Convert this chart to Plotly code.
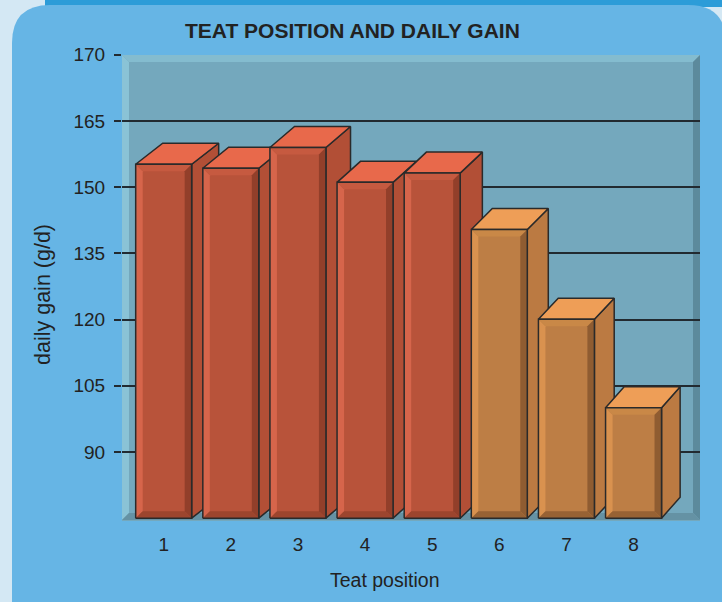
import plotly.graph_objects as go

# ---------------- data ----------------
categories = ['1', '2', '3', '4', '5', '6', '7', '8']
positions = [1, 2, 3, 4, 5, 6, 7, 8]
daily_gain = [155.2, 154.3, 159.0, 151.1, 153.2, 140.4, 120.1, 100.0]
y_tick_values = [90, 105, 120, 135, 150, 165, 180]
y_tick_labels = ['90', '105', '120', '135', '150', '165', '170']
baseline = 75

chart_title = 'TEAT POSITION AND DAILY GAIN'
x_title = 'Teat position'
y_title = 'daily gain (g/d)'

# ---------------- style ----------------
W, H = 722, 602
L, R, T, B = 122, 700, 54, 521          # plot area in pixels
PW, PH = R - L, B - T
X_RANGE = [0.379, 8.99]
Y_RANGE = [74.36, 180.19]
ux = (X_RANGE[1] - X_RANGE[0]) / PW      # data units per px
uy = (Y_RANGE[1] - Y_RANGE[0]) / PH
BAR_W = 0.834
BEVEL = 7
DEPTH_Y = 21
FONT = 'Liberation Sans, Arial, sans-serif'
INK = '#222222'
OUTLINE = '#2a2a2a'

red = dict(mid='#b8533a', light='#d6654b', top_bevel='#c65a40', dark='#923f2a',
           bottom='#9c452e', top='#e8694b', side='#b24f36')
orange = dict(mid='#bd7e45', light='#d9924f', top_bevel='#c98847', dark='#8f5c31',
              bottom='#976234', top='#ee9e57', side='#bb7a42')
palettes = [red] * 5 + [orange] * 3


def pp(px, py):
    return (px - L) / PW, (B - py) / PH


def poly_path(pts):
    s = ''
    for i, (px, py) in enumerate(pts):
        x, y = pp(px, py)
        s += ('M' if i == 0 else 'L') + f'{x:.5f},{y:.5f} '
    return s + 'Z'


def rounded_path(x0, y0, x1, y1, r):
    pts = [('M', (x0 + r, y0)), ('L', (x1 - r, y0)), ('Q', (x1, y0), (x1, y0 + r)),
           ('L', (x1, y1 - r)), ('Q', (x1, y1), (x1 - r, y1)), ('L', (x0 + r, y1)),
           ('Q', (x0, y1), (x0, y1 - r)), ('L', (x0, y0 + r)), ('Q', (x0, y0), (x0 + r, y0))]
    s = ''
    for item in pts:
        cmd = item[0]
        coords = ' '.join('%.5f,%.5f' % pp(*c) for c in item[1:])
        s += f'{cmd}{coords} '
    return s + 'Z'


shapes = []


def add_path(path, color):
    shapes.append(dict(type='path', xref='paper', yref='paper', path=path,
                       fillcolor=color, line=dict(width=0), layer='below'))


# background decoration
add_path(poly_path([(45, 0), (722, 0), (722, 7), (45, 7)]), '#2c9cd8')
add_path(rounded_path(12, 5, 726, 650, 38), '#66b5e5')
add_path(poly_path([(L, 55), (R, 55), (R, 521), (L, 521)]), '#74a8bd')
add_path(poly_path([(L, 55), (129, 62), (129, 513), (L, 520)]), '#8ac3d6')
add_path(poly_path([(L, 55), (R, 55), (693, 62), (129, 62)]), '#84bccf')
add_path(poly_path([(693, 62), (R, 55), (R, 520), (693, 513)]), '#5c8a9c')
add_path(poly_path([(L, 520), (129, 513), (693, 513), (R, 520)]), '#6592a4')

fig = go.Figure()

# front faces as real bars
fig.add_trace(go.Bar(
    x=positions, y=[v - baseline for v in daily_gain], base=baseline, width=BAR_W,
    marker=dict(color=[p['mid'] for p in palettes], line=dict(width=0)),
    hovertemplate='Teat %{x}: %{y}<extra></extra>', showlegend=False))


def poly(xs, ys, color, line=False, fill=True):
    fig.add_trace(go.Scatter(
        x=list(xs) + [xs[0]], y=list(ys) + [ys[0]], mode='lines',
        fill='toself' if fill else 'none', fillcolor=color if fill else None,
        line=dict(color=OUTLINE if line else 'rgba(0,0,0,0)', width=1.5 if line else 0),
        hoverinfo='skip', showlegend=False))


bx = BEVEL * ux
by = BEVEL * uy
dy = DEPTH_Y * uy
for i, (xc, v) in enumerate(zip(positions, daily_gain)):
    p = palettes[i]
    dx = (27 - 1.2 * i) * ux
    xl, xr = xc - BAR_W / 2, xc + BAR_W / 2
    b0 = baseline
    # side face
    poly([xr, xr, xr + dx, xr + dx], [b0, v, v + dy, b0 + dy], p['side'], line=True)
    # top face
    poly([xl, xr, xr + dx, xl + dx], [v, v, v + dy, v + dy], p['top'], line=True)
    # front face with bevels
    poly([xl, xr, xr, xl], [b0, b0, v, v], p['mid'])
    poly([xl, xl, xl + bx, xl + bx], [b0, v, v - by, b0 + by], p['light'])
    poly([xl, xr, xr - bx, xl + bx], [v, v, v - by, v - by], p['top_bevel'])
    poly([xr, xr, xr - bx, xr - bx], [v, b0, b0 + by, v - by], p['dark'])
    poly([xl, xr, xr - bx, xl + bx], [b0, b0, b0 + by, b0 + by], p['bottom'])
    poly([xl, xr, xr, xl], [b0, b0, v, v], None, line=True, fill=False)

annotations = [
    dict(text=f'<b>{chart_title}</b>', xref='paper', yref='paper',
         x=pp(352, 0)[0], y=pp(0, 30)[1], showarrow=False,
         font=dict(family=FONT, size=21, color=INK), xanchor='center', yanchor='middle'),
    dict(text=x_title, xref='paper', yref='paper', x=pp(385, 0)[0], y=pp(0, 580)[1],
         showarrow=False, font=dict(family=FONT, size=19.5, color=INK),
         xanchor='center', yanchor='middle'),
    dict(text=y_title, xref='paper', yref='paper', x=pp(43, 0)[0], y=pp(0, 294)[1],
         showarrow=False, textangle=-90, font=dict(family=FONT, size=21.5, color=INK),
         xanchor='center', yanchor='middle'),
]

fig.update_layout(
    width=W, height=H, autosize=False,
    margin=dict(l=L, r=W - R, t=T, b=H - B, pad=0),
    paper_bgcolor='#d4e8f4', plot_bgcolor='rgba(0,0,0,0)',
    barmode='overlay', showlegend=False,
    shapes=shapes, annotations=annotations,
    font=dict(family=FONT, color=INK),
    xaxis=dict(range=X_RANGE, tickvals=positions, ticktext=categories,
               showgrid=False, zeroline=False, showline=False, ticks='',
               tickfont=dict(size=19, color=INK, family=FONT), ticklabelstandoff=10,
               fixedrange=True),
    yaxis=dict(range=Y_RANGE, tickvals=y_tick_values, ticktext=y_tick_labels,
               showgrid=True, gridcolor='#222a30', gridwidth=1.5, zeroline=False,
               showline=False, ticks='outside', ticklen=7, tickwidth=1.5,
               tickcolor='#222a30', tickfont=dict(size=19, color=INK, family=FONT),
               ticklabelstandoff=5, fixedrange=True),
)

fig.write_html('out.html', config={'displayModeBar': False},
               post_script="document.body.style.margin='0';document.body.style.padding='0';document.body.style.overflow='hidden';")
